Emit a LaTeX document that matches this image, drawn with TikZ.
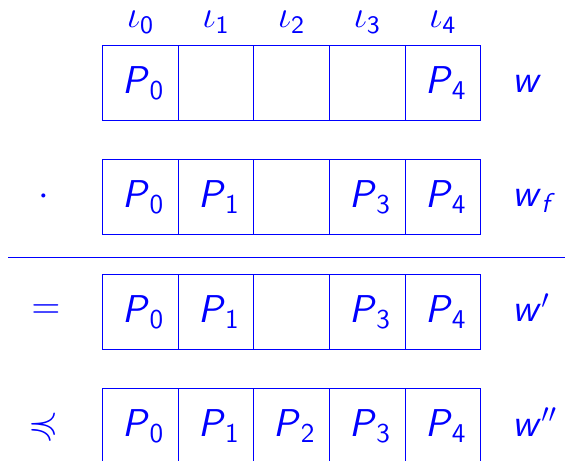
\documentclass[tikz,border=0pt]{standalone}
\usepackage{amsmath}
\usepackage{amssymb}
\newcommand{\sfl}[1]{\textsf{\textsl{#1}}}
\newcommand{\Pv}[1]{\kern0.08cm$\sfl{P}_{\textsf{#1}}$}
\begin{document}
\begin{tikzpicture}[x=0.013228cm,y=-0.013228cm,
  every node/.style={text=blue,font=\fontsize{14.6}{17}\selectfont},
  cellbox/.style={draw=blue,minimum width=1cm,minimum height=0.996cm,inner sep=0pt,outer sep=0pt},
  lbl/.style={anchor=base,inner sep=0pt,font=\fontsize{13.5}{16}\selectfont},
  wl/.style={anchor=base west,inner sep=0pt},
  sym/.style={inner sep=0pt}]
\clip (0,0) rectangle (565,461);
% location labels
\node[lbl] (l0) at (140.5,28) {$\iota_{\textsf{0}}$};
\node[lbl] (l1) at (216.1,28) {$\iota_{\textsf{1}}$};
\node[lbl] (l2) at (291.7,28) {$\iota_{\textsf{2}}$};
\node[lbl] (l3) at (367.3,28) {$\iota_{\textsf{3}}$};
\node[lbl] (l4) at (442.9,28) {$\iota_{\textsf{4}}$};
% row 1
\node[cellbox] (a0) at (140.5,83.3) {\Pv{0}};
\node[cellbox] (a1) at (216.1,83.3) {};
\node[cellbox] (a2) at (291.7,83.3) {};
\node[cellbox] (a3) at (367.3,83.3) {};
\node[cellbox] (a4) at (442.9,83.3) {\Pv{4}};
\node[wl] (wa) at (512,93) {$\sfl{w}$};
% row 2
\node[sym] (sb) at (44,197) {$\cdot$};
\node[cellbox] (b0) at (140.5,197) {\Pv{0}};
\node[cellbox] (b1) at (216.1,197) {\Pv{1}};
\node[cellbox] (b2) at (291.7,197) {};
\node[cellbox] (b3) at (367.3,197) {\Pv{3}};
\node[cellbox] (b4) at (442.9,197) {\Pv{4}};
\node[wl] (wb) at (512,207) {$\sfl{w}_{\sfl{f}}$};
% separator
\coordinate (s1) at (8,257.3);
\coordinate (s2) at (565,257.3);
\draw[blue] (s1) -- (s2);
% row 3
\node[sym] (sc) at (46,312) {$=$};
\node[cellbox] (c0) at (140.5,312) {\Pv{0}};
\node[cellbox] (c1) at (216.1,312) {\Pv{1}};
\node[cellbox] (c2) at (291.7,312) {};
\node[cellbox] (c3) at (367.3,312) {\Pv{3}};
\node[cellbox] (c4) at (442.9,312) {\Pv{4}};
\node[wl] (wc) at (512,322) {$\sfl{w}'$};
% row 4
\node[sym] (sd) at (44,426) {$\preccurlyeq$};
\node[cellbox] (d0) at (140.5,426) {\Pv{0}};
\node[cellbox] (d1) at (216.1,426) {\Pv{1}};
\node[cellbox] (d2) at (291.7,426) {\Pv{2}};
\node[cellbox] (d3) at (367.3,426) {\Pv{3}};
\node[cellbox] (d4) at (442.9,426) {\Pv{4}};
\node[wl] (wd) at (512,436) {$\sfl{w}''$};
\end{tikzpicture}
\end{document}
